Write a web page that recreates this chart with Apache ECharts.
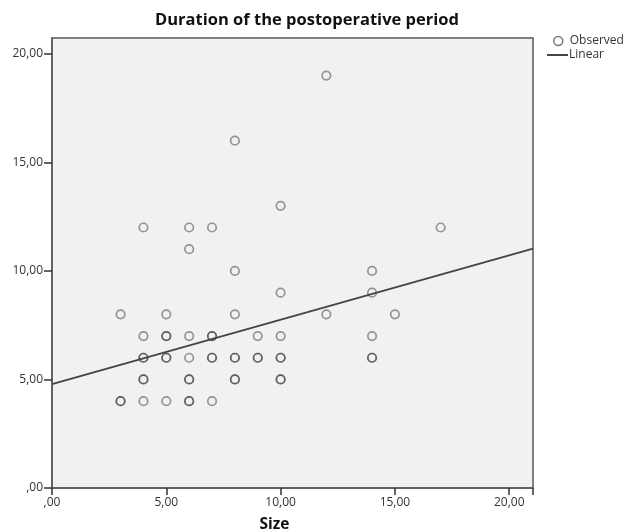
<!DOCTYPE html>
<html>
<head>
<meta charset="utf-8">
<script src="https://cdn.jsdelivr.net/npm/echarts@6/dist/echarts.min.js"></script>
<style>
  html, body { margin: 0; padding: 0; background: #fff; }
  #chart { width: 638px; height: 529px; }
</style>
</head>
<body>
<div id="chart"></div>
<script>
// observed points (overlapping cases repeated, that is why some circles look darker)
var sizeData = [
  3, 3, 3,
  4, 4, 4, 4, 4, 4, 4,
  5, 5, 5, 5, 5, 5,
  6, 6, 6, 6, 6, 6, 6, 6,
  7, 7, 7, 7, 7, 7,
  8, 8, 8, 8, 8, 8, 8,
  9, 9, 9,
  10, 10, 10, 10, 10, 10, 10,
  12, 12,
  14, 14, 14, 14, 14,
  15,
  17
];
var durationData = [
  8, 4, 4,
  12, 7, 6, 6, 5, 5, 4,
  8, 7, 7, 6, 6, 4,
  12, 11, 7, 6, 5, 5, 4, 4,
  12, 7, 7, 6, 6, 4,
  16, 10, 8, 6, 6, 5, 5,
  7, 6, 6,
  13, 9, 7, 6, 6, 5, 5,
  19, 8,
  10, 9, 7, 6, 6,
  8,
  12
];
// fitted line, ends read at the plot edges
var linearX = [0, 21.04];
var linearY = [4.78, 11.03];

var tickValues = [0, 5, 10, 15, 20];

function fmt (v) {
  if (v === 0) return ",00";
  return v.toFixed(2).replace(".", ",");
}

var myChart = echarts.init(document.getElementById("chart"));
var option = {
  backgroundColor: "#ffffff",
  animation: false,
  textStyle: { fontFamily: "Open Sans" },
  title: {
    text: "Duration of the postoperative period",
    left: 302,
    textAlign: "center",
    top: 7,
    textStyle: {
      fontFamily: "Open Sans",
      fontSize: 16.5,
      fontWeight: "bold",
      color: "#111",
    },
  },
  grid: {
    left: 52,
    right: 105,
    top: 38,
    bottom: 41,
    outerBoundsMode: "none",
    containLabel: false,
    show: true,
    backgroundColor: "#f1f1f1",
    borderColor: "#5a5a5a",
    borderWidth: 1.5,
  },
  legend: [
    {
      data: [{ name: "Observed", icon: "circle" }],
      left: 548,
      top: 30,
      itemWidth: 9,
      itemHeight: 9,
      itemGap: 4,
      itemStyle: { color: "transparent", borderColor: "#555", borderWidth: 1.5 },
      textStyle: { fontSize: 12, color: "#333", fontFamily: "Open Sans", padding: [0, 0, 0, 2] },
    },
    {
      data: [{ name: "Linear", icon: "rect" }],
      left: 542,
      top: 44,
      itemWidth: 21,
      itemHeight: 2,
      itemGap: 4,
      itemStyle: { color: "#444" },
      textStyle: { fontSize: 12, color: "#333", fontFamily: "Open Sans", padding: [0, 0, 0, -4] },
    },
  ],
  xAxis: {
    type: "value",
    min: 0,
    max: 21.04,
    interval: 5,
    name: "Size",
    nameLocation: "middle",
    nameGap: 29,
    nameTextStyle: { fontSize: 15.5, fontWeight: "bold", color: "#111", fontFamily: "Open Sans", padding: [0, 36, 0, 0] },
    splitLine: { show: false },
    axisLine: { show: true, onZero: false, lineStyle: { color: "#5a5a5a", width: 1.5 } },
    axisTick: { show: true, inside: false, length: 7, lineStyle: { color: "#333", width: 1.5 } },
    axisLabel: {
      fontSize: 12,
      color: "#333",
      margin: 9,
      formatter: fmt,
      customValues: tickValues,
    },
  },
  yAxis: {
    type: "value",
    min: 0,
    max: 20.73,
    interval: 5,
    splitLine: { show: false },
    axisLine: { show: true, onZero: false, lineStyle: { color: "#5a5a5a", width: 1.5 } },
    axisTick: { show: true, inside: false, length: 8, customValues: tickValues, lineStyle: { color: "#333", width: 1.5 } },
    axisLabel: {
      fontSize: 12,
      color: "#333",
      margin: 9,
      formatter: fmt,
      customValues: tickValues,
    },
  },
  series: [
    {
      name: "Observed",
      type: "scatter",
      symbol: "circle",
      symbolSize: 8.5,
      itemStyle: {
        color: "transparent",
        borderColor: "rgba(30,30,30,0.55)",
        borderWidth: 1.7,
      },
      data: sizeData.map(function (s, i) { return [s, durationData[i]]; }),
    },
    {
      name: "Linear",
      type: "line",
      symbol: "none",
      lineStyle: { color: "#444", width: 1.8 },
      data: linearX.map(function (x, i) { return [x, linearY[i]]; }),
    },
  ],
};
myChart.setOption(option);
</script>
</body>
</html>
